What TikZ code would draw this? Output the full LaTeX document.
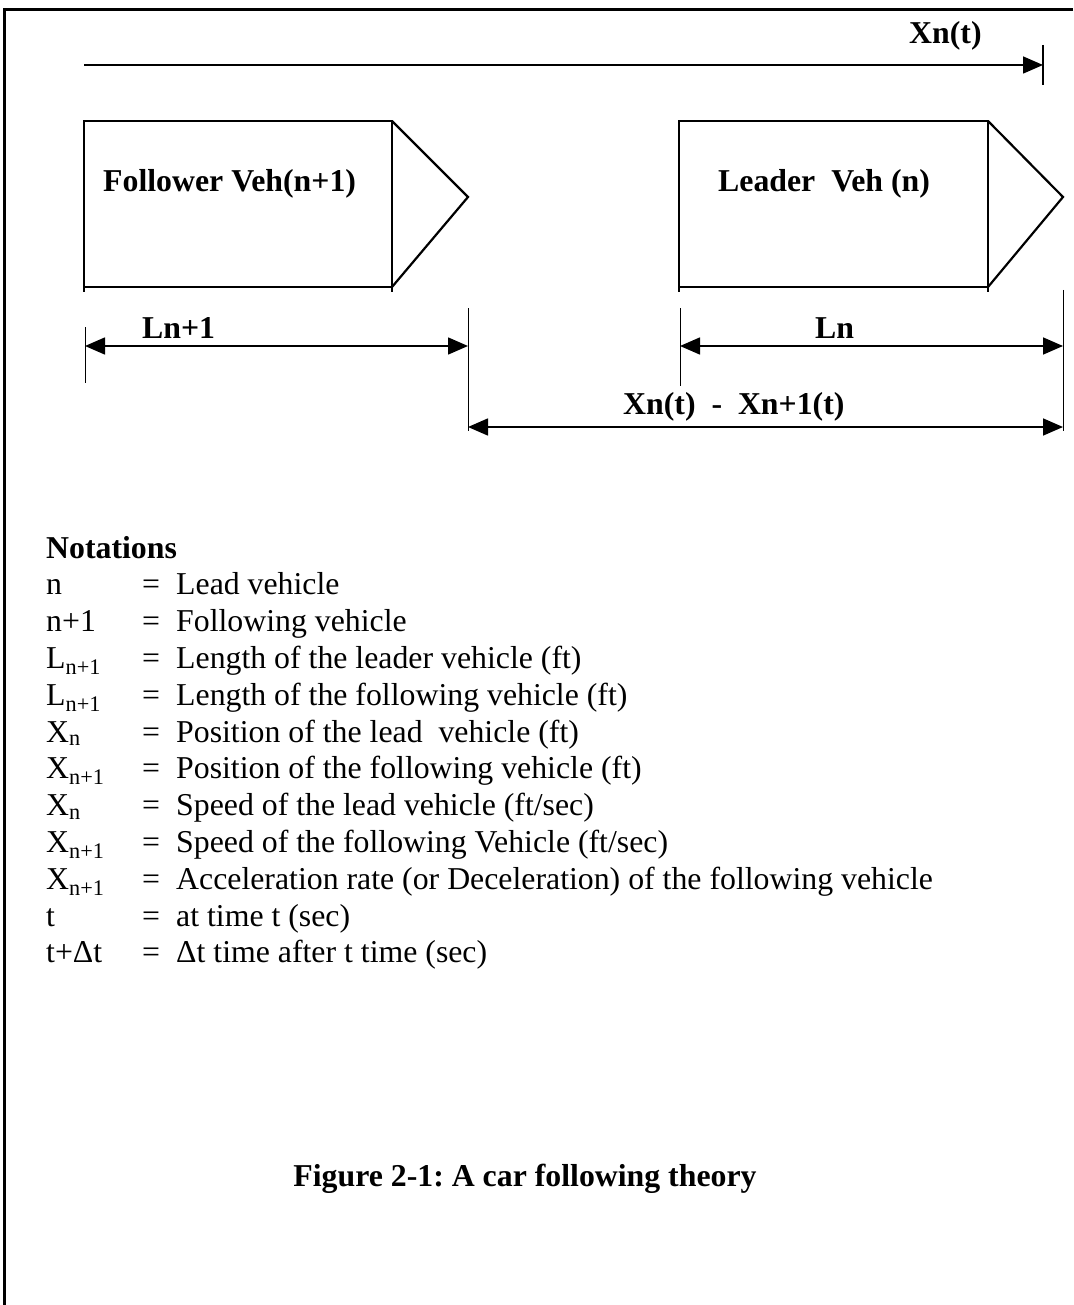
\documentclass[tikz,border=0pt]{standalone}
\usepackage{fontspec}
\setmainfont{Liberation Serif}
\usetikzlibrary{arrows.meta}
\frenchspacing
\begin{document}
\begin{tikzpicture}[x=1pt,y=-1pt,
  >={Triangle[length=20pt,width=17pt]},
  frame/.style={line width=3pt},
  body/.style={line width=2.7pt},
  nose/.style={line width=2.2pt},
  dimline/.style={line width=1.6pt},
  extline/.style={line width=1pt},
  bold/.style={font=\fontsize{31.8}{36.6}\selectfont\bfseries, inner sep=0pt, anchor=base west},
  txt/.style={font=\fontsize{31.8}{36.6}\selectfont, inner sep=0pt, anchor=base west},
]
\useasboundingbox (0,0) rectangle (1073,1305);
% frame
\coordinate (fr1) at (1073,9.5);
\coordinate (fr2) at (4.5,9.5);
\coordinate (fr3) at (4.5,1305);
\draw[frame] (fr1) -- (fr2) -- (fr3);

% position axis
\coordinate (ax0) at (84,65);
\coordinate (ax1) at (1043,65);
\coordinate (bar0) at (1043,45);
\coordinate (bar1) at (1043,85);
\draw[dimline,->] (ax0) -- (ax1);
\draw[line width=2pt] (bar0) -- (bar1);
\node[bold] (xnt) at (909,44) {Xn(t)};

% follower vehicle
\coordinate (f1) at (84,121);
\coordinate (f2) at (392,121);
\coordinate (f3) at (392,287);
\coordinate (f4) at (84,287);
\coordinate (ft) at (468,197);
\coordinate (f1b) at (84,292);
\coordinate (f2b) at (392,292);
\draw[body] (f1b) -- (f1) -- (f2) -- (f2b);
\draw[body] (f4) -- (f3);
\draw[nose] (f2) -- (ft) -- (f3);
\node[bold] (flab) at (103,192) {Follower Veh(n+1)};

% leader vehicle
\coordinate (l1) at (679,121);
\coordinate (l2) at (988,121);
\coordinate (l3) at (988,287);
\coordinate (l4) at (679,287);
\coordinate (lt) at (1063,197);
\coordinate (l1b) at (679,292);
\coordinate (l2b) at (988,292);
\draw[body] (l1b) -- (l1) -- (l2) -- (l2b);
\draw[body] (l4) -- (l3);
\draw[nose] (l2) -- (lt) -- (l3);
\node[bold] (llab) at (718,192) {Leader\ \ Veh (n)};

% extension lines
\coordinate (e1a) at (85,327);   \coordinate (e1b) at (85,383);
\coordinate (e2a) at (468,308);  \coordinate (e2b) at (468,431);
\coordinate (e3a) at (680,308);  \coordinate (e3b) at (680,386);
\coordinate (e4a) at (1063,290); \coordinate (e4b) at (1063,431);
\draw[extline] (e1a) -- (e1b);
\draw[extline] (e2a) -- (e2b);
\draw[extline] (e3a) -- (e3b);
\draw[extline] (e4a) -- (e4b);

% dimension arrows
\coordinate (d1a) at (85,346);  \coordinate (d1b) at (468,346);
\coordinate (d2a) at (680,346); \coordinate (d2b) at (1063,346);
\coordinate (d3a) at (468,427); \coordinate (d3b) at (1063,427);
\draw[dimline,<->] (d1a) -- (d1b);
\draw[dimline,<->] (d2a) -- (d2b);
\draw[dimline,<->] (d3a) -- (d3b);
\node[bold] (lnp1) at (142,338) {Ln+1};
\node[bold] (ln) at (815,338) {Ln};
\node[bold] (gap) at (623,414) {Xn(t)\ \ -\ \ Xn+1(t)};

% notations
\node[bold] (notations) at (46,558) {Notations};
\node[txt] (s1)  at (46,594.8) {n};
\node[txt] (s2)  at (46,631.6) {n+1};
\node[txt] (s3)  at (46,668.4) {L\textsubscript{n+1}};
\node[txt] (s4)  at (46,705.2) {L\textsubscript{n+1}};
\node[txt] (s5)  at (46,742.0) {X\textsubscript{n}};
\node[txt] (s6)  at (46,778.8) {X\textsubscript{n+1}};
\node[txt] (s7)  at (46,815.6) {X\textsubscript{n}};
\node[txt] (s8)  at (46,852.4) {X\textsubscript{n+1}};
\node[txt] (s9)  at (46,889.2) {X\textsubscript{n+1}};
\node[txt] (s10) at (46,926.0) {t};
\node[txt] (s11) at (46,962.8) {t+Δt};
\foreach \i/\y in {1/594.8,2/631.6,3/668.4,4/705.2,5/742.0,6/778.8,7/815.6,8/852.4,9/889.2,10/926.0,11/962.8}
  \node[txt] (q\i) at (142,\y) {=};
\node[txt] (t1)  at (176,594.8) {Lead vehicle};
\node[txt] (t2)  at (176,631.6) {Following vehicle};
\node[txt] (t3)  at (176,668.4) {Length of the leader vehicle (ft)};
\node[txt] (t4)  at (176,705.2) {Length of the following vehicle (ft)};
\node[txt] (t5)  at (176,742.0) {Position of the lead\ \ vehicle (ft)};
\node[txt] (t6)  at (176,778.8) {Position of the following vehicle (ft)};
\node[txt] (t7)  at (176,815.6) {Speed of the lead vehicle (ft/sec)};
\node[txt] (t8)  at (176,852.4) {Speed of the following Vehicle (ft/sec)};
\node[txt] (t9)  at (176,889.2) {Acceleration rate (or Deceleration) of the following vehicle};
\node[txt] (t10) at (176,926.0) {at time t (sec)};
\node[txt] (t11) at (176,962.8) {Δt time after t time (sec)};

% caption
\node[bold, anchor=base] (cap) at (525,1186) {Figure 2-1: A car following theory};
\end{tikzpicture}
\end{document}
